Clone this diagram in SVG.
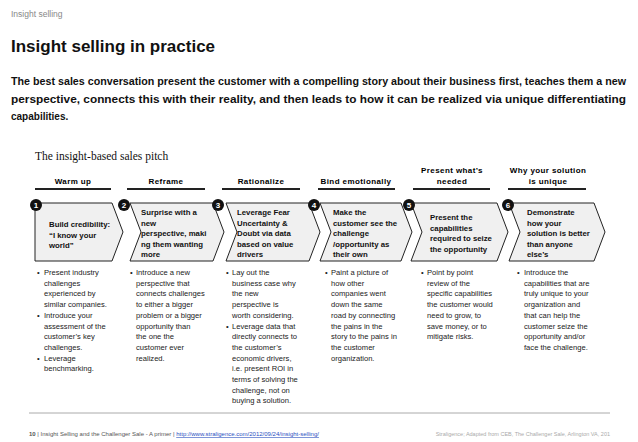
<svg xmlns="http://www.w3.org/2000/svg" width="638" height="442" viewBox="0 0 638 442">
<style>
text{font-family:"Liberation Sans",Arial,sans-serif}
.hd{font-size:8px;font-weight:bold;text-anchor:middle;letter-spacing:0.4px}
.hl{stroke:#222;stroke-width:2}
.ch{fill:#f0f0f0;stroke:#222;stroke-width:1}
.ct{font-size:7.8px;font-weight:bold;fill:#111}
.bt{font-size:7.6px;fill:#222}
.nc{fill:#111}
.nt{fill:#fff;font-size:8px;font-weight:bold;text-anchor:middle}
</style>
<rect width="638" height="442" fill="#fff"/>
<text x="11" y="17" font-size="8.5" fill="#888">Insight selling</text>
<text x="11" y="52" font-size="17" font-weight="bold" fill="#111">Insight selling in practice</text>
<g font-size="10" font-weight="bold" fill="#111">
<text x="11" y="85" textLength="615" lengthAdjust="spacingAndGlyphs">The best sales conversation present the customer with a compelling story about their business first, teaches them a new</text>
<text x="11" y="103" textLength="615" lengthAdjust="spacingAndGlyphs">perspective, connects this with their reality, and then leads to how it can be realized via unique differentiating</text>
<text x="11" y="120">capabilities.</text>
</g>
<text x="35" y="160" font-size="11.5" fill="#111" style="font-family:'Liberation Serif',serif">The insight-based sales pitch</text>
<g id="headers">
<text class="hd" x="73" y="184">Warm up</text><line class="hl" x1="35" y1="189" x2="111" y2="189"/>
<text class="hd" x="166" y="184">Reframe</text><line class="hl" x1="127" y1="189" x2="205" y2="189"/>
<text class="hd" x="261" y="184">Rationalize</text><line class="hl" x1="222" y1="189" x2="300" y2="189"/>
<text class="hd" x="356" y="184">Bind emotionally</text><line class="hl" x1="318" y1="189" x2="395" y2="189"/>
<text class="hd" x="452" y="173">Present what’s</text><text class="hd" x="452" y="184">needed</text><line class="hl" x1="413" y1="189" x2="490" y2="189"/>
<text class="hd" x="548" y="173">Why your solution</text><text class="hd" x="548" y="184">is unique</text><line class="hl" x1="508" y1="189" x2="586" y2="189"/>
</g>
<g id="node1"><polygon class="ch" points="35,203 112,203 123,232 112,261 35,261"/><circle class="nc" cx="36" cy="205" r="6"/><text class="nt" x="36" y="208">1</text>
<text class="ct" x="49" y="227">Build credibility:</text><text class="ct" x="49" y="237.5">“I know your</text><text class="ct" x="49" y="248">world”</text></g>
<g id="node2"><polygon class="ch" points="130,203 213,203 224,232 213,261 130,261 141,232"/><circle class="nc" cx="124" cy="205" r="6"/><text class="nt" x="124" y="208">2</text>
<text class="ct" x="141" y="215">Surprise with a</text><text class="ct" x="141" y="225.5">new</text><text class="ct" x="141" y="236">perspective, maki</text><text class="ct" x="141" y="246.5">ng them wanting</text><text class="ct" x="141" y="257">more</text></g>
<g id="node3"><polygon class="ch" points="226,203 309,203 320,232 309,261 226,261 237,232"/><circle class="nc" cx="218" cy="205" r="6"/><text class="nt" x="218" y="208">3</text>
<text class="ct" x="237" y="215">Leverage Fear</text><text class="ct" x="237" y="225.5">Uncertainty &amp;</text><text class="ct" x="237" y="236">Doubt via data</text><text class="ct" x="237" y="246.5">based on value</text><text class="ct" x="237" y="257">drivers</text></g>
<g id="node4"><polygon class="ch" points="320,203 401,203 412,232 401,261 320,261 331,232"/><circle class="nc" cx="314" cy="205" r="6"/><text class="nt" x="314" y="208">4</text>
<text class="ct" x="333" y="215">Make the</text><text class="ct" x="333" y="225.5">customer see the</text><text class="ct" x="333" y="236">challenge</text><text class="ct" x="333" y="246.5">/opportunity as</text><text class="ct" x="333" y="257">their own</text></g>
<g id="node5"><polygon class="ch" points="411,203 497,203 508,232 497,261 411,261 422,232"/><circle class="nc" cx="409" cy="205" r="6"/><text class="nt" x="409" y="208">5</text>
<text class="ct" x="430" y="220">Present the</text><text class="ct" x="430" y="230.5">capabilities</text><text class="ct" x="430" y="241">required to seize</text><text class="ct" x="430" y="251.5">the opportunity</text></g>
<g id="node6"><polygon class="ch" points="509,203 594,203 605,232 594,261 509,261 520,232"/><circle class="nc" cx="508" cy="205" r="6"/><text class="nt" x="508" y="208">6</text>
<text class="ct" x="527" y="215">Demonstrate</text><text class="ct" x="527" y="225.5">how your</text><text class="ct" x="527" y="236">solution is better</text><text class="ct" x="527" y="246.5">than anyone</text><text class="ct" x="527" y="257">else’s</text></g>
<g class="bt">
<text x="37" y="275">•</text>
<text x="44" y="275">Present industry</text><text x="44" y="285.7">challenges</text><text x="44" y="296.4">experienced by</text><text x="44" y="307.1">similar companies.</text>
<text x="37" y="317.8">•</text><text x="44" y="317.8">Introduce your</text><text x="44" y="328.5">assessment of the</text><text x="44" y="339.2">customer’s key</text><text x="44" y="349.9">challenges.</text>
<text x="37" y="360.6">•</text><text x="44" y="360.6">Leverage</text><text x="44" y="371.3">benchmarking.</text>

<text x="130" y="275">•</text>
<text x="136" y="275">Introduce a new</text><text x="136" y="285.7">perspective that</text><text x="136" y="296.4">connects challenges</text><text x="136" y="307.1">to either a bigger</text><text x="136" y="317.8">problem or a bigger</text><text x="136" y="328.5">opportunity than</text><text x="136" y="339.2">the one the</text><text x="136" y="349.9">customer ever</text><text x="136" y="360.6">realized.</text>

<text x="226" y="275">•</text>
<text x="232" y="275">Lay out the</text><text x="232" y="285.7">business case why</text><text x="232" y="296.4">the new</text><text x="232" y="307.1">perspective is</text><text x="232" y="317.8">worth considering.</text>
<text x="226" y="328.5">•</text><text x="232" y="328.5">Leverage data that</text><text x="232" y="339.2">directly connects to</text><text x="232" y="349.9">the customer’s</text><text x="232" y="360.6">economic drivers,</text><text x="232" y="371.3">i.e. present ROI in</text><text x="232" y="382">terms of solving the</text><text x="232" y="392.7">challenge, not on</text><text x="232" y="403.4">buying a solution.</text>

<text x="325" y="275">•</text>
<text x="331" y="275">Paint a picture of</text><text x="331" y="285.7">how other</text><text x="331" y="296.4">companies went</text><text x="331" y="307.1">down the same</text><text x="331" y="317.8">road by connecting</text><text x="331" y="328.5">the pains in the</text><text x="331" y="339.2">story to the pains in</text><text x="331" y="349.9">the customer</text><text x="331" y="360.6">organization.</text>

<text x="421" y="275">•</text>
<text x="427" y="275">Point by point</text><text x="427" y="285.7">review of the</text><text x="427" y="296.4">specific capabilities</text><text x="427" y="307.1">the customer would</text><text x="427" y="317.8">need to grow, to</text><text x="427" y="328.5">save money, or to</text><text x="427" y="339.2">mitigate risks.</text>

<text x="517" y="275">•</text>
<text x="524" y="275">Introduce the</text><text x="524" y="285.7">capabilities that are</text><text x="524" y="296.4">truly unique to your</text><text x="524" y="307.1">organization and</text><text x="524" y="317.8">that can help the</text><text x="524" y="328.5">customer seize the</text><text x="524" y="339.2">opportunity and/or</text><text x="524" y="349.9">face the challenge.</text>
</g>
<line x1="29" y1="413" x2="610" y2="413" stroke="#aaa" stroke-width="1"/>
<text x="29" y="436" font-size="6" fill="#555"><tspan font-weight="bold">10</tspan> | Insight Selling and the Challenger Sale - A primer | <tspan fill="#2a4fbf" text-decoration="underline">http://www.straligence.com/2012/09/24/insight-selling/</tspan></text>
<text x="610" y="436" font-size="5.5" fill="#aaa" text-anchor="end">Straligence; Adapted from CEB, The Challenger Sale, Arlington VA, 201</text>
</svg>
